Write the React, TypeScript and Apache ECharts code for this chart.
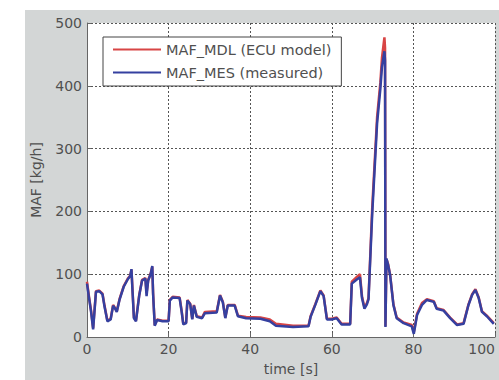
import React, { useEffect, useRef } from 'react';
import * as echarts from 'echarts';

// time [s]
const timeS = [
  0, 0.5, 1.0, 1.5, 2.2, 3.0, 3.8, 4.3, 5.0, 5.8, 6.4, 6.9, 7.3, 8.0, 9.0, 10.0, 10.6, 10.9, 11.1, 11.5,
  12.0, 12.8, 13.5, 14.3, 14.6, 15.0, 15.6, 16.0, 16.2, 16.6, 17.2, 18.5, 20.0, 20.3, 21.0, 22.7, 23.2, 23.6, 24.3, 24.6,
  25.3, 25.8, 26.2, 26.9, 28.2, 28.9, 31.8, 32.6, 33.3, 33.9, 34.5, 36.2, 37.0, 39.0, 42.5, 44.8, 46.3, 50.5, 54.3, 54.8,
  56.0, 57.2, 58.0, 58.8, 60.0, 61.2, 62.4, 64.5, 64.9, 66.2, 66.9, 67.4, 68.0, 68.6, 69.0, 69.9, 71.1, 71.9, 72.3, 72.9,
  73.05, 73.15, 73.4, 73.8, 74.3, 75.1, 75.9, 77.6, 79.6, 80.1, 80.9, 82.1, 83.3, 85.0, 85.7, 87.4, 89.0, 90.7, 92.3, 93.5,
  94.4, 95.2, 96.0, 96.8, 98.0, 99.7,
];

// MAF_MES (measured) [kg/h]
const mafMes = [
  85, 62, 40, 12, 72, 73, 68, 48, 25, 28, 50, 45, 40, 60, 80, 92, 97, 108, 80, 30,
  25, 66, 90, 93, 65, 90, 100, 113, 68, 18, 27, 25, 25, 58, 63, 62, 40, 20, 22, 58,
  52, 28, 50, 32, 30, 38, 39, 66, 55, 30, 50, 50, 33, 30, 29, 25, 18, 16, 17, 32,
  52, 73, 65, 28, 28, 30, 20, 20, 85, 92, 95, 62, 45, 52, 60, 195, 340, 395, 430, 455,
  440, 16, 125, 115, 98, 51, 30, 22, 17, 5, 35, 51, 59, 56, 45, 42, 30, 19, 21, 51,
  67, 75, 62, 40, 33, 21,
];

// MAF_MDL (ECU model) [kg/h]
const mafMdl = [
  88, 64, 42, 14, 73, 74, 69, 50, 26, 29, 51, 46, 41, 61, 81, 93, 98, 107, 82, 31,
  26, 67, 91, 94, 70, 91, 101, 112, 70, 19, 28, 26, 26, 59, 64, 63, 42, 21, 23, 59,
  53, 29, 51, 33, 31, 40, 41, 67, 56, 31, 51, 51, 34, 32, 31, 28, 21, 18, 18, 33,
  53, 74, 66, 29, 29, 31, 21, 21, 88, 96, 100, 65, 47, 54, 62, 205, 350, 405, 445, 477,
  460, 17, 124, 116, 99, 52, 31, 23, 19, 8, 37, 54, 60, 57, 46, 43, 31, 20, 22, 52,
  68, 76, 63, 41, 34, 22,
];

const xTicks = [0, 20, 40, 60, 80, 100];
const yTicks = [0, 100, 200, 300, 400, 500];
const legendNames = ['MAF_MDL (ECU model)', 'MAF_MES (measured)'];

const FONT = 'DejaVu Sans';
const TEXT = '#505050';

export default function App() {
  const ref = useRef<HTMLDivElement>(null);

  useEffect(() => {
    const chart = echarts.init(ref.current!, null, { renderer: 'svg' });
    const mdlData = timeS.map((t, i) => [t, mafMdl[i]]);
    const mesData = timeS.map((t, i) => [t, mafMes[i]]);
    const splitLine = {
      show: true,
      lineStyle: { color: '#555', width: 1, type: [2, 2] as any },
    };
    chart.setOption({
      animation: false,
      backgroundColor: '#d3d6d6',
      textStyle: { fontFamily: FONT },
      grid: {
        left: 62,
        top: 13,
        right: 4,
        bottom: 43,
        show: true,
        backgroundColor: '#ffffff',
        borderWidth: 0,
        outerBoundsMode: 'none',
        containLabel: false,
      },
      legend: {
        orient: 'vertical',
        left: 78,
        top: 27,
        padding: [5, 10, 6, 10],
        icon: 'rect',
        itemWidth: 48,
        itemHeight: 2,
        itemGap: 8,
        backgroundColor: '#ffffff',
        borderColor: '#444',
        borderWidth: 1,
        borderRadius: 0,
        textStyle: { fontFamily: FONT, fontSize: 14.5, color: TEXT },
        data: legendNames,
      },
      xAxis: {
        type: 'value',
        min: xTicks[0],
        max: xTicks[xTicks.length - 1],
        interval: xTicks[1] - xTicks[0],
        name: 'time [s]',
        nameLocation: 'middle',
        nameGap: 25,
        nameTextStyle: { fontFamily: FONT, fontSize: 14, color: TEXT },
        axisLine: { show: true, lineStyle: { color: '#666', width: 1 } },
        axisTick: { show: true, inside: true, length: 4, lineStyle: { color: '#666' } },
        axisLabel: { fontFamily: FONT, fontSize: 14, color: TEXT, margin: 5, alignMaxLabel: 'right' },
        splitLine,
      },
      yAxis: {
        type: 'value',
        min: yTicks[0],
        max: yTicks[yTicks.length - 1],
        interval: yTicks[1] - yTicks[0],
        name: 'MAF [kg/h]',
        nameLocation: 'middle',
        nameGap: 44,
        nameTextStyle: { fontFamily: FONT, fontSize: 14, color: TEXT },
        axisLine: { show: true, lineStyle: { color: '#666', width: 1 } },
        axisTick: { show: true, inside: true, length: 4, lineStyle: { color: '#666' } },
        axisLabel: { fontFamily: FONT, fontSize: 14, color: TEXT, margin: 5 },
        splitLine,
      },
      series: [
        {
          name: legendNames[0],
          type: 'line',
          data: mdlData,
          symbol: 'none',
          lineStyle: { color: '#d84545', width: 2.5 },
          itemStyle: { color: '#d84545' },
        },
        {
          name: legendNames[1],
          type: 'line',
          data: mesData,
          symbol: 'none',
          lineStyle: { color: '#3540a0', width: 2.5 },
          itemStyle: { color: '#3540a0' },
        },
      ],
    });
    return () => chart.dispose();
  }, []);

  return (
    <div style={{ position: 'fixed', left: 0, top: 0, width: 499, height: 380, background: '#ffffff' }}>
      <div ref={ref} style={{ position: 'absolute', left: 25, top: 10, width: 474, height: 370 }} />
    </div>
  );
}
